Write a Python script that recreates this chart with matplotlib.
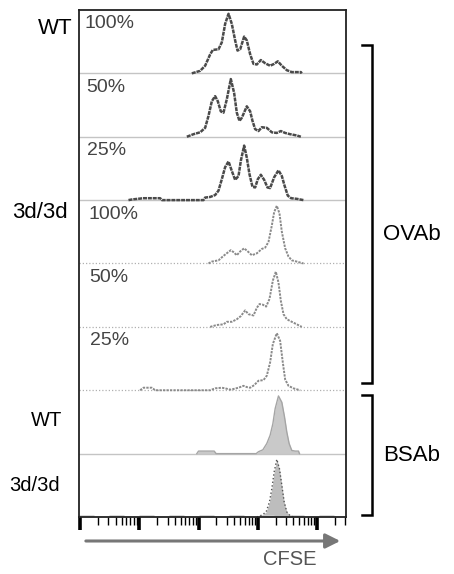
import matplotlib.pyplot as plt
import numpy as np
from matplotlib.lines import Line2D
from matplotlib.ticker import LogLocator, NullFormatter

plt.rcParams['font.family'] = ['Liberation Sans', 'DejaVu Sans']

# log10(CFSE) positions and modal height (fraction of one lane)
ova_wt100_x = [1.886, 2.027, 2.111, 2.196, 2.241, 2.337, 2.393, 2.449, 2.506, 2.562, 2.618, 2.658, 2.703, 2.770,
               2.815, 2.872, 2.928, 2.984, 3.052, 3.125, 3.209, 3.277, 3.339, 3.407, 3.491, 3.575, 3.728, 3.744]
ova_wt100_y = [0, 0.04, 0.12, 0.30, 0.37, 0.38, 0.49, 0.78, 0.94, 0.78, 0.52, 0.36, 0.38, 0.58,
               0.52, 0.30, 0.15, 0.14, 0.21, 0.16, 0.12, 0.15, 0.19, 0.12, 0.05, 0.02, 0.02, 0]

ova_wt50_x = [1.802, 1.914, 2.027, 2.111, 2.168, 2.224, 2.280, 2.325, 2.376, 2.421, 2.477, 2.545, 2.601, 2.646, 2.691,
              2.731, 2.815, 2.872, 2.911, 2.956, 3.012, 3.069, 3.153, 3.238, 3.322, 3.390, 3.463, 3.547, 3.660, 3.728]
ova_wt50_y = [0, 0.04, 0.07, 0.14, 0.33, 0.56, 0.64, 0.56, 0.40, 0.38, 0.59, 0.91, 0.69, 0.38, 0.25,
              0.30, 0.48, 0.40, 0.25, 0.12, 0.09, 0.15, 0.14, 0.07, 0.06, 0.09, 0.06, 0.04, 0.02, 0]

ova_wt25_x = [0.816, 0.873, 1.070, 1.351, 1.380, 2.083, 2.111, 2.196, 2.280, 2.337, 2.393, 2.449, 2.506, 2.562, 2.618,
              2.675, 2.714, 2.770, 2.815, 2.860, 2.911, 2.956, 3.001, 3.052, 3.108, 3.164, 3.209, 3.277, 3.350, 3.407,
              3.452, 3.508, 3.564, 3.660, 3.773]
ova_wt25_y = [0, 0.01, 0.03, 0.03, 0, 0, 0.04, 0.05, 0.08, 0.15, 0.33, 0.52, 0.61, 0.46, 0.32,
              0.38, 0.62, 0.86, 0.67, 0.41, 0.21, 0.20, 0.33, 0.40, 0.32, 0.20, 0.19, 0.36, 0.47, 0.38,
              0.23, 0.07, 0.03, 0.02, 0]

ova_3d100_x = [2.168, 2.224, 2.337, 2.421, 2.489, 2.545, 2.590, 2.646, 2.703, 2.770, 2.844, 2.900, 2.984,
               3.069, 3.125, 3.181, 3.238, 3.277, 3.322, 3.367, 3.407, 3.463, 3.519, 3.575, 3.660, 3.773]
ova_3d100_y = [0, 0.03, 0.05, 0.12, 0.17, 0.21, 0.18, 0.13, 0.19, 0.24, 0.18, 0.13, 0.16,
               0.23, 0.25, 0.34, 0.60, 0.81, 0.91, 0.79, 0.50, 0.24, 0.11, 0.05, 0.03, 0]

ova_3d50_x = [2.196, 2.309, 2.421, 2.477, 2.562, 2.646, 2.714, 2.787, 2.844, 2.928, 2.984, 3.029,
              3.086, 3.142, 3.198, 3.255, 3.305, 3.350, 3.390, 3.435, 3.491, 3.575, 3.660, 3.744]
ova_3d50_y = [0, 0.03, 0.04, 0.08, 0.08, 0.12, 0.17, 0.26, 0.20, 0.18, 0.30, 0.36,
              0.35, 0.32, 0.44, 0.73, 0.87, 0.70, 0.41, 0.20, 0.12, 0.08, 0.04, 0]

ova_3d25_x = [1.013, 1.070, 1.211, 1.267, 2.196, 2.280, 2.393, 2.449, 2.534, 2.590, 2.675, 2.759, 2.815, 2.872,
              2.939, 3.012, 3.097, 3.153, 3.209, 3.255, 3.322, 3.378, 3.423, 3.463, 3.519, 3.604, 3.716]
ova_3d25_y = [0, 0.04, 0.04, 0, 0, 0.03, 0.04, 0.03, 0.01, 0.02, 0.04, 0.07, 0.05, 0.04,
              0.08, 0.15, 0.16, 0.23, 0.44, 0.73, 0.90, 0.78, 0.44, 0.17, 0.07, 0.03, 0]

bsa_wt_x = [1.971, 1.999, 2.264, 2.297, 2.973, 3.012, 3.086, 3.153, 3.209, 3.255,
            3.294, 3.350, 3.407, 3.452, 3.491, 3.530, 3.575, 3.632, 3.688, 3.705]
bsa_wt_y = [0, 0.04, 0.04, 0, 0, 0.03, 0.06, 0.16, 0.29, 0.47,
            0.71, 0.91, 0.81, 0.58, 0.34, 0.16, 0.05, 0.04, 0.04, 0]

bsa_3d_x = [2.984, 3.069, 3.142, 3.198, 3.238, 3.277, 3.322, 3.367, 3.407, 3.446, 3.491, 3.547, 3.604]
bsa_3d_y = [0, 0.03, 0.08, 0.24, 0.45, 0.71, 0.91, 0.76, 0.50, 0.24, 0.08, 0.02, 0]

pct_labels = ["100%", "50%", "25%", "100%", "50%", "25%"]

fig = plt.figure(figsize=(4.54, 5.74), dpi=100)
ax = fig.add_axes([0.174, 0.0993, 0.588, 0.8833])
xmin, xmax = 10 ** -0.02, 10 ** 4.49
ax.set_xscale('log')
ax.set_xlim(xmin, xmax)
ax.set_ylim(0, 8)

dark = dict(color='#4a4a4a', lw=1.8, ls=(0, (1.6, 0.35)))
light = dict(color='#8a8a8a', lw=1.4, ls=(0, (1.2, 0.6)))

# WT OVAb (top three lanes)
for k, (xs, ys) in enumerate([(ova_wt100_x, ova_wt100_y), (ova_wt50_x, ova_wt50_y), (ova_wt25_x, ova_wt25_y)]):
    base = 7 - k
    ax.plot([xmin, xmax], [base, base], color='#c4c4c4', lw=1.0)
    ax.plot(10 ** np.array(xs), base + np.array(ys), **dark)

# 3d/3d OVAb
for k, (xs, ys) in enumerate([(ova_3d100_x, ova_3d100_y), (ova_3d50_x, ova_3d50_y), (ova_3d25_x, ova_3d25_y)]):
    base = 4 - k
    ax.plot([xmin, xmax], [base, base], color='#b0b0b0', lw=0.9, ls=(0, (1, 1.6)))
    ax.plot(10 ** np.array(xs), base + np.array(ys), **light)

# BSAb lanes, filled
ax.plot([xmin, xmax], [1, 1], color='#c4c4c4', lw=1.0)
ax.fill_between(10 ** np.array(bsa_wt_x), 1, 1 + np.array(bsa_wt_y), color='#c9c9c9', lw=0)
ax.plot(10 ** np.array(bsa_wt_x), 1 + np.array(bsa_wt_y), color='#a5a5a5', lw=1.0)

ax.plot([xmin, xmax], [0.02, 0.02], color='#cfcfcf', lw=1.8, ls=(0, (6, 6)))
ax.fill_between(10 ** np.array(bsa_3d_x), 0, np.array(bsa_3d_y), color='#bdbdbd', lw=0)
ax.plot(10 ** np.array(bsa_3d_x), np.array(bsa_3d_y), color='#555555', lw=1.0, ls=':')

# percentage labels inside lanes
for k, lab in enumerate(pct_labels):
    ax.text(0.022 + 0.004 * k, 7 - k + 0.78, lab, transform=ax.get_yaxis_transform(),
            fontsize=14, color='#444444', va='center', ha='left')

# axes styling
for s in ax.spines.values():
    s.set_linewidth(1.3)
    s.set_color('#222222')
ax.set_yticks([])
ax.xaxis.set_major_locator(LogLocator(base=10, numticks=12))
ax.xaxis.set_minor_locator(LogLocator(base=10, subs=np.arange(2, 10), numticks=12))
ax.xaxis.set_major_formatter(NullFormatter())
ax.xaxis.set_minor_formatter(NullFormatter())
ax.tick_params(axis='x', which='major', length=9, width=2.6, direction='out', color='black')
ax.tick_params(axis='x', which='minor', length=5.5, width=1.0, direction='out', color='black')

# left sample labels
fig.text(0.159, 0.951, "WT", fontsize=16, ha='right', va='center')
fig.text(0.150, 0.629, "3d/3d", fontsize=16, ha='right', va='center')
fig.text(0.137, 0.2666, "WT", fontsize=14.5, ha='right', va='center')
fig.text(0.132, 0.155, "3d/3d", fontsize=14.5, ha='right', va='center')

# right brackets
def bracket(y0, y1):
    xv, xs = 0.819, 0.797
    fig.add_artist(Line2D([xs, xv, xv, xs], [y0, y0, y1, y1], color='black', lw=1.8,
                          solid_joinstyle='miter'))

bracket(0.9216, 0.3328)
bracket(0.3118, 0.1028)
fig.text(0.8436, 0.5906, "OVAb", fontsize=16, ha='left', va='center')
fig.text(0.8436, 0.2073, "BSAb", fontsize=16, ha='left', va='center')

# CFSE arrow
ax.annotate('', xy=(0.7555, 0.0575), xytext=(0.183, 0.0575), xycoords='figure fraction',
            textcoords='figure fraction',
            arrowprops=dict(arrowstyle='-|>', color='#777777', lw=2.2, mutation_scale=22))
fig.text(0.639, 0.0244, "CFSE", fontsize=14.5, color='#555555', ha='center', va='center')

fig.savefig("out.png", dpi=100, facecolor='white')
